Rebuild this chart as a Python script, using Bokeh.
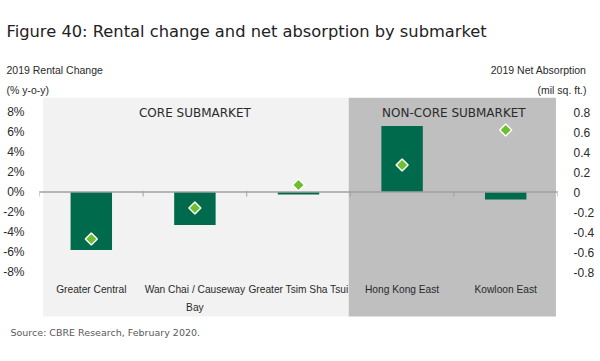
from bokeh.plotting import figure
from bokeh.models import (Range1d, LinearAxis, FixedTicker, PrintfTickFormatter,
                          CustomJSTickFormatter, Span, ColumnDataSource)
from bokeh.core.properties import value
from bokeh.embed import file_html
from bokeh.resources import INLINE
import numpy as np

# ---------------- data ----------------
categories = ["Greater Central", "Wan Chai / Causeway\nBay", "Greater Tsim Sha Tsui",
              "Hong Kong East", "Kowloon East"]
rental_change = [-5.8, -3.3, -0.25, 6.6, -0.75]          # % y-o-y (left axis)
net_absorption = [-0.47, -0.16, 0.07, 0.27, 0.62]         # mil sq. ft. (right axis)
groups = ["CORE SUBMARKET", "NON-CORE SUBMARKET"]
group_members = [[0, 1, 2], [3, 4]]
left_ticks = [-8, -6, -4, -2, 0, 2, 4, 6, 8]
right_ticks = [-0.8, -0.6, -0.4, -0.2, 0, 0.2, 0.4, 0.6, 0.8]

title_text = "Figure 40: Rental change and net absorption by submarket"
left_title = ["2019 Rental Change", "(% y-o-y)"]
right_title = ["2019 Net Absorption", "(mil sq. ft.)"]
source_text = "Source: CBRE Research, February 2020."

# ---------------- styling ----------------
NARROW = "Liberation Sans"
GOTHIC = "DejaVu Sans"
TXT = "#2A2A2A"
BAR = "#006A4D"
DIAMOND = "#6CBF2F"
LIGHT_BG = "#F2F2F2"
DARK_BG = "#BFBFBF"

W = 598
FL, FR, FT, FB, PB = 37, 557, 97, 320, 359   # frame edges / page bottom in page pixels
ZERO_PX, PX_PER_UNIT = 191.5, 10.0
y_top = (ZERO_PX - FT) / PX_PER_UNIT
y_bot = (ZERO_PX - FB) / PX_PER_UNIT
band_bottom = (ZERO_PX - 316) / PX_PER_UNIT


def text_strip(top, bottom):
    f = figure(width=W, height=bottom - top, output_backend="svg", toolbar_location=None,
               x_range=Range1d(0, W), y_range=Range1d(bottom, top),
               x_axis_location=None, y_axis_location=None,
               min_border_left=0, min_border_right=0, min_border_top=0, min_border_bottom=0)
    f.grid.visible = False
    f.outline_line_color = None
    f.border_fill_color = "white"
    f.background_fill_color = "white"
    return f


# ---------------- header ----------------
head = text_strip(0, FT)
head.text(x=[6], y=[31], text=[title_text], text_font=value(GOTHIC), text_font_size="16.3px",
          text_color="#222222", text_baseline="middle")
head.text(x=[6] * len(left_title), y=[69 + 20 * i for i in range(len(left_title))],
          text=left_title, text_font=value(NARROW), text_font_size="10.5px",
          text_color=TXT, text_baseline="middle")
head.text(x=[586] * len(right_title), y=[69 + 20 * i for i in range(len(right_title))],
          text=right_title, text_font=value(NARROW), text_font_size="10.5px",
          text_color=TXT, text_baseline="middle", text_align="right")

# ---------------- main chart ----------------
p = figure(width=W, height=FB - FT, output_backend="svg", toolbar_location=None,
           x_range=Range1d(0, len(categories)), y_range=Range1d(y_bot, y_top),
           x_axis_location=None, min_border_left=FL, min_border_right=W - FR,
           min_border_top=0, min_border_bottom=0)
p.extra_y_ranges = {"right": Range1d(y_bot / 10, y_top / 10)}
p.grid.visible = False
p.outline_line_color = None
p.background_fill_color = "white"
p.border_fill_color = "white"

band_colors = [LIGHT_BG, DARK_BG]
for gi, (g, members) in enumerate(zip(groups, group_members)):
    left = members[0] + (0.035 if gi == 0 else -0.015)
    right = members[-1] + 1 - (0.015 if gi == len(groups) - 1 else 0.015)
    p.quad(left=left, right=right, top=y_top, bottom=band_bottom,
           fill_color=band_colors[gi], line_color=None)
    p.text(x=[(members[0] + members[-1] + 1) / 2], y=[7.9], text=[g],
           text_font=value(GOTHIC), text_font_size="12px", text_color=TXT,
           text_align="center", text_baseline="middle")

xc = np.arange(len(categories)) + 0.5
src = ColumnDataSource(dict(x=xc, rc=rental_change, na=net_absorption, cat=categories))

p.vbar(x="x", top="rc", bottom=0, width=0.4, source=src, fill_color=BAR, line_color=None)

p.add_layout(Span(location=0, dimension="width", line_color="#A0A0A0", line_width=1.5))
tx = np.arange(len(categories) + 1)
p.segment(x0=tx, x1=tx, y0=[0.1] * len(tx), y1=[-0.45] * len(tx),
          line_color="#A0A0A0", line_width=1)

p.scatter(x="x", y="na", source=src, y_range_name="right", marker="square",
          angle=np.pi / 4, size=8.5, fill_color=DIAMOND, line_color="white", line_width=1.5)

p.text(x="x", y=-9.2, text="cat", source=src, text_font=value(NARROW),
       text_font_size="10.2px", text_color=TXT, text_align="center",
       text_baseline="top", text_line_height=1.65)

ya = p.yaxis[0]
ya.ticker = FixedTicker(ticks=left_ticks)
ya.formatter = PrintfTickFormatter(format="%d%%")
ra = LinearAxis(y_range_name="right", ticker=FixedTicker(ticks=right_ticks),
                formatter=CustomJSTickFormatter(code="return tick.toFixed(1).replace(/\\.0$/, '').replace(/^-0$/, '0');"))
p.add_layout(ra, "right")
for ax, so in ((ya, 15), (ra, 16)):
    ax.axis_line_color = None
    ax.major_tick_line_color = None
    ax.minor_tick_line_color = None
    ax.major_tick_out = 0
    ax.major_tick_in = 0
    ax.minor_tick_out = 0
    ax.axis_label_standoff = 0
    ax.major_label_standoff = so
    ax.major_label_text_font = NARROW
    ax.major_label_text_font_size = "12px"
    ax.major_label_text_color = TXT

# ---------------- footer ----------------
foot = text_strip(FB, PB)
foot.text(x=[10], y=[332], text=[source_text], text_font=value(GOTHIC),
          text_font_size="9.5px", text_color="#595959", text_baseline="middle")

open("out.html", "w").write(file_html([head, p, foot], INLINE))
